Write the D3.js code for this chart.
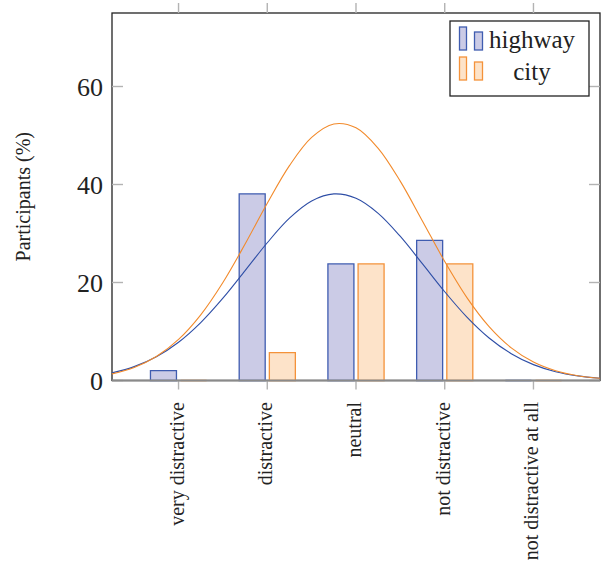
<!DOCTYPE html>
<html>
<head>
<meta charset="utf-8">
<script src="https://cdn.jsdelivr.net/npm/d3@7"></script>
<style>
  html, body { margin: 0; padding: 0; background: #fff; }
  svg { display: block; }
</style>
</head>
<body>
<svg id="chart" width="606" height="575"></svg>
<script>
// ---- data ----
const categories = ["very distractive", "distractive", "neutral", "not distractive", "not distractive at all"];
const highway = [2.0, 38.1, 23.8, 28.6, 0];
const city = [0, 5.7, 23.8, 23.8, 0];
const seriesNames = ["highway", "city"];
const yTicks = [0, 20, 40, 60];
// fitted curves (x in category units, y in %)
const curveX = [0.25, 0.5, 0.75, 1.0, 1.25, 1.5, 1.75, 2.0, 2.25, 2.5, 2.75, 3.0, 3.25, 3.5, 3.75, 4.0, 4.25, 4.5, 4.75, 5.0, 5.25, 5.5, 5.75];
const highwayCurve = [1.55, 2.83, 4.85, 7.81, 11.82, 16.80, 22.42, 28.11, 33.12, 36.64, 38.08, 37.19, 34.12, 29.40, 23.80, 18.11, 12.94, 8.68, 5.47, 3.24, 1.80, 0.94, 0.46];
const cityCurve = [1.35, 2.66, 4.89, 8.38, 13.40, 20.00, 27.85, 36.17, 43.85, 49.61, 52.36, 51.57, 47.39, 40.64, 32.51, 24.28, 16.91, 10.99, 6.66, 3.77, 2.00, 0.98, 0.45];

// ---- layout ----
const FONT = "'Liberation Serif', 'Times New Roman', Times, serif";
const L = 112, R = 600, T = 13, B = 380.5;
const svg = d3.select("#chart").attr("font-family", FONT);
const x = d3.scaleLinear().domain([0.25, 5.75]).range([L, R]);
const y = d3.scaleLinear().domain([0, 75]).range([B, T]);

const colors = {
  highway: { fill: "#cbcbe6", stroke: "#3f5cb0", line: "#2e4ea6" },
  city: { fill: "#fde3c9", stroke: "#f4923a", line: "#f28a2b" }
};
function txt(sel) { return sel.append("text").attr("font-family", FONT).attr("fill", "#222"); }

// frame
svg.append("rect").attr("x", L).attr("y", T).attr("width", R - L).attr("height", B - T)
  .attr("fill", "none").attr("stroke", "#222").attr("stroke-width", 1.3);

// y ticks (left inward, right inward)
const tickColor = "#b3b3b3";
yTicks.forEach(v => {
  svg.append("line").attr("x1", L).attr("x2", L + 11).attr("y1", y(v)).attr("y2", y(v))
    .attr("stroke", tickColor).attr("stroke-width", 1.4);
  svg.append("line").attr("x1", R - 11).attr("x2", R).attr("y1", y(v)).attr("y2", y(v))
    .attr("stroke", tickColor).attr("stroke-width", 1.4);
  txt(svg).attr("x", L - 9).attr("y", y(v)).attr("dy", "0.35em")
    .attr("text-anchor", "end").attr("font-size", 26).text(v);
});

// x ticks (bottom outward, top outward)
categories.forEach((c, i) => {
  const cx = x(i + 1);
  svg.append("line").attr("x1", cx).attr("x2", cx).attr("y1", B).attr("y2", B + 9)
    .attr("stroke", tickColor).attr("stroke-width", 1.4);
  svg.append("line").attr("x1", cx).attr("x2", cx).attr("y1", 3).attr("y2", T)
    .attr("stroke", tickColor).attr("stroke-width", 1.4);
  txt(svg).attr("transform", `translate(${cx + 5},402) rotate(-90)`)
    .attr("text-anchor", "end").attr("font-size", 20).text(c);
});

// bars
const barW = 0.293, off = 0.17;
function barPath(cx, v) {
  const x0 = x(cx - barW / 2), x1 = x(cx + barW / 2);
  return `M${x0},${y(0)}V${y(v)}H${x1}V${y(0)}Z`;
}
[highway, city].forEach((vals, si) => {
  const name = seriesNames[si];
  const shift = si === 0 ? -off : off;
  svg.append("g").selectAll("path").data(vals).join("path")
    .attr("d", (v, i) => barPath(i + 1 + shift, v))
    .attr("fill", colors[name].fill)
    .attr("stroke", colors[name].stroke)
    .attr("stroke-width", 1.3);
});

// bottom axis line (gray)
svg.append("line").attr("x1", L).attr("x2", R).attr("y1", B).attr("y2", B)
  .attr("stroke", "#8a8a8a").attr("stroke-width", 2);

// curves
const lineGen = d3.line().x(d => x(d[0])).y(d => y(d[1])).curve(d3.curveCatmullRom);
[[highwayCurve, "highway"], [cityCurve, "city"]].forEach(([vals, name]) => {
  svg.append("path").datum(curveX.map((cx, i) => [cx, vals[i]]))
    .attr("d", lineGen).attr("fill", "none")
    .attr("stroke", colors[name].line).attr("stroke-width", 1.1);
});

// legend
const lg = svg.append("g");
lg.append("rect").attr("x", 450).attr("y", 21).attr("width", 139).attr("height", 75)
  .attr("fill", "#fff").attr("stroke", "#222").attr("stroke-width", 1.3);
const legRows = [{ name: "highway", yb: 50, ty: 48 }, { name: "city", yb: 80, ty: 80 }];
legRows.forEach(r => {
  const c = colors[r.name];
  lg.append("rect").attr("x", 459.5).attr("y", r.yb - 23).attr("width", 7).attr("height", 23)
    .attr("fill", c.fill).attr("stroke", c.stroke).attr("stroke-width", 1.3);
  lg.append("rect").attr("x", 474.5).attr("y", r.yb - 18).attr("width", 8).attr("height", 18)
    .attr("fill", c.fill).attr("stroke", c.stroke).attr("stroke-width", 1.3);
  txt(lg).attr("x", 532).attr("y", r.ty).attr("text-anchor", "middle")
    .attr("font-size", 25).text(r.name);
});

// y label
txt(svg).attr("transform", `translate(30,${(T + B) / 2}) rotate(-90)`)
  .attr("text-anchor", "middle").attr("font-size", 20).text("Participants (%)");
</script>
</body>
</html>
